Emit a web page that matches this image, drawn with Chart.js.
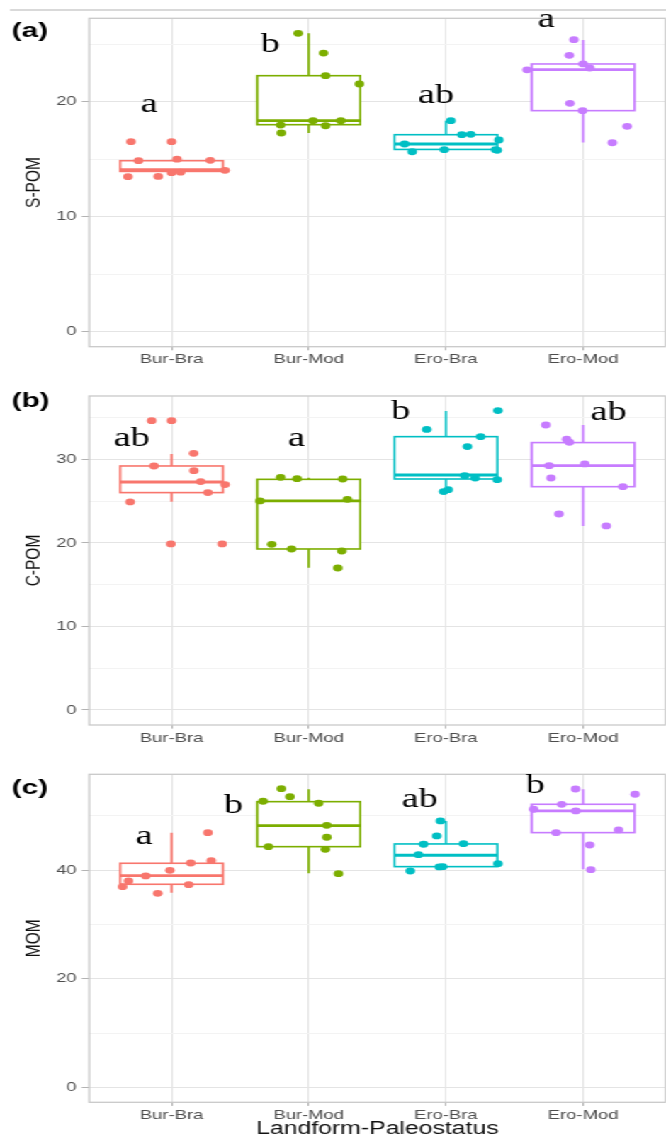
<!DOCTYPE html>
<html>
<head>
<meta charset="utf-8">
<title>Landform-Paleostatus boxplots</title>
<script src="https://cdn.jsdelivr.net/npm/chart.js@4/dist/chart.umd.min.js"></script>
<style>
  html, body { margin: 0; padding: 0; background: #fff; width: 666px; height: 1139px; overflow: hidden; }
  /* the figure is drawn narrow and widened, so text and dots come out stretched */
  #figure { position: absolute; left: 0; top: 0; width: 473px; height: 1139px; transform: scaleX(1.417); transform-origin: 0 0; }
  #figure canvas { position: absolute; left: 0; }
</style>
</head>
<body>
<div id="figure">
  <canvas id="panelA" width="473" height="370" style="top:0px"></canvas>
  <canvas id="panelB" width="473" height="375" style="top:370px"></canvas>
  <canvas id="panelC" width="473" height="394" style="top:745px"></canvas>
</div>
<script>
// ---- data -------------------------------------------------------------
const categories = ['Bur-Bra', 'Bur-Mod', 'Ero-Bra', 'Ero-Mod'];
const xTitle = 'Landform-Paleostatus';

// box summaries: [lower whisker, Q1, median, Q3, upper whisker]
const sPomBoxes = [
  [13.72, 13.94, 14.09, 14.87, 14.95],
  [17.28, 18.00, 18.35, 22.26, 25.94],
  [15.80, 15.85, 16.32, 17.13, 18.35],
  [16.46, 19.22, 22.78, 23.28, 25.37]
];
const sPomPoints = [
  [16.52, 16.52, 14.87, 15.00, 14.90, 13.48, 13.50, 13.83, 13.87, 14.03],
  [25.94, 24.23, 22.26, 21.54, 18.35, 18.35, 17.97, 17.91, 17.28],
  [18.35, 17.13, 17.16, 16.67, 16.32, 15.65, 15.83, 15.83, 15.78],
  [25.39, 24.03, 23.28, 22.93, 22.77, 19.86, 19.22, 17.86, 16.43]
];
const sPomLetters = ['a', 'b', 'ab', 'a'];

const cPomBoxes = [
  [24.95, 26.03, 27.30, 29.22, 30.66],
  [17.04, 19.28, 25.03, 27.62, 27.80],
  [26.23, 27.66, 28.14, 32.73, 35.80],
  [22.04, 26.74, 29.26, 32.02, 34.13]
];
const cPomPoints = [
  [34.65, 34.65, 30.74, 29.22, 28.66, 27.35, 26.99, 26.03, 24.91, 19.88, 19.88],
  [27.86, 27.70, 27.66, 25.03, 25.23, 19.84, 19.28, 19.04, 17.00],
  [35.85, 33.60, 32.73, 31.54, 28.06, 27.78, 27.58, 26.15, 26.38],
  [34.13, 32.42, 32.06, 29.26, 29.46, 27.78, 26.74, 23.47, 22.04]
];
const cPomLetters = ['ab', 'a', 'b', 'ab'];

const momBoxes = [
  [35.85, 37.39, 38.97, 41.25, 46.88],
  [39.41, 44.30, 48.16, 52.57, 54.85],
  [40.40, 40.63, 42.72, 44.80, 49.03],
  [40.15, 46.88, 50.86, 52.09, 54.85]
];
const momPoints = [
  [46.88, 41.30, 41.73, 39.96, 38.92, 38.00, 36.95, 37.32, 35.73],
  [54.96, 53.49, 52.65, 52.28, 48.23, 46.03, 44.30, 43.82, 39.34],
  [49.03, 46.27, 44.74, 44.85, 42.83, 41.18, 40.57, 40.63, 39.83],
  [54.90, 53.93, 52.09, 51.18, 50.86, 46.88, 47.37, 44.61, 40.07]
];
const momLetters = ['a', 'b', 'ab', 'b'];

// ---- placement (category units / value units) --------------------------
// horizontal jitter of each point, as a fraction of the category spacing
const sPomJitter = [
  [-0.296, 0, -0.241, 0.040, 0.282, -0.318, -0.097, 0, 0.065, 0.390],
  [-0.077, 0.108, 0.123, 0.369, 0.031, 0.234, -0.205, 0.123, -0.200],
  [0.036, 0.116, 0.181, 0.386, -0.301, -0.246, -0.012, 0.362, 0.374],
  [-0.067, -0.100, 0, 0.048, -0.409, -0.096, -0.004, 0.321, 0.213]
];
const cPomJitter = [
  [-0.145, 0, 0.161, -0.128, 0.163, 0.212, 0.390, 0.265, -0.302, -0.005, 0.369],
  [-0.205, -0.085, 0.248, -0.356, 0.282, -0.270, -0.125, 0.241, 0.212],
  [0.379, -0.140, 0.253, 0.157, 0.137, 0.213, 0.374, -0.017, 0.017],
  [-0.272, -0.120, -0.100, -0.248, 0.012, -0.234, 0.290, -0.176, 0.169]
];
const momJitter = [
  [0.265, 0.140, 0.289, -0.012, -0.188, -0.314, -0.357, 0.125, -0.101],
  [-0.200, -0.137, -0.333, 0.072, 0.132, 0.132, -0.294, 0.121, 0.217],
  [-0.040, -0.067, -0.163, 0.128, -0.200, 0.379, -0.048, -0.024, -0.260],
  [-0.055, 0.379, -0.156, -0.361, -0.053, -0.197, 0.258, 0.048, 0.056]
];
// [x, baseline value] of each significance letter
const sPomLetterSpots = [[-0.163, 19.13], [0.720, 24.30], [1.928, 19.86], [2.730, 26.50]];
const cPomLetterSpots = [[-0.290, 31.60], [0.910, 31.60], [1.670, 34.85], [3.185, 34.70]];
const momLetterSpots  = [[-0.200, 44.80], [0.450, 50.40], [1.810, 51.65], [2.650, 54.20]];

// ---- styling ----------------------------------------------------------
const groupColors = ['#F8766D', '#7CAE00', '#00BFC4', '#C77CFF'];
const SANS = "'Liberation Sans', Arial, sans-serif";
const SERIF = "'Liberation Serif', 'Times New Roman', serif";
const BOX_WIDTH = 0.75;

Chart.defaults.font.family = SANS;
Chart.defaults.animation = false;

const panels = [
  { canvas: 'panelA', tag: '(a)', tagY: 31.7, yTitle: 'S-POM',
    boxes: sPomBoxes, points: sPomPoints, jitter: sPomJitter,
    letters: sPomLetters, letterSpots: sPomLetterSpots,
    yMin: -1.30, yMax: 27.25, major: [0, 10, 20], minor: [5, 15, 25],
    top: 18.3, axisHeight: 23.3, showXTitle: false, topRule: true },
  { canvas: 'panelB', tag: '(b)', tagY: 31.7, yTitle: 'C-POM',
    boxes: cPomBoxes, points: cPomPoints, jitter: cPomJitter,
    letters: cPomLetters, letterSpots: cPomLetterSpots,
    yMin: -1.80, yMax: 37.60, major: [0, 10, 20, 30], minor: [5, 15, 25, 35],
    top: 26, axisHeight: 20, showXTitle: false, topRule: false },
  { canvas: 'panelC', tag: '(c)', tagY: 43.3, yTitle: 'MOM',
    boxes: momBoxes, points: momPoints, jitter: momJitter,
    letters: momLetters, letterSpots: momLetterSpots,
    yMin: -2.68, yMax: 57.60, major: [0, 20, 40], minor: [10, 30, 50],
    top: 29.3, axisHeight: 36.7, showXTitle: true, topRule: false }
];

// boxes, panel frame, letters and the panel tag
function makeBoxLayer(p) {
  return {
    id: 'boxLayer',
    beforeDatasetsDraw(chart) {
      const { ctx, chartArea: a, scales: { x, y } } = chart;
      ctx.save();
      ctx.strokeStyle = '#C9C9C9';
      ctx.lineWidth = 1.3;
      ctx.strokeRect(a.left, a.top, a.right - a.left, a.bottom - a.top);
      p.boxes.forEach((b, i) => {
        const cx = x.getPixelForValue(i);
        const hw = x.getPixelForValue(i + BOX_WIDTH / 2) - cx;
        const [lo, q1, med, q3, hi] = b.map(v => y.getPixelForValue(v));
        ctx.strokeStyle = groupColors[i];
        ctx.lineWidth = 1.6;
        ctx.beginPath();
        ctx.moveTo(cx, hi); ctx.lineTo(cx, q3);
        ctx.moveTo(cx, q1); ctx.lineTo(cx, lo);
        ctx.stroke();
        ctx.fillStyle = '#ffffff';
        ctx.fillRect(cx - hw, q3, 2 * hw, q1 - q3);
        ctx.strokeRect(cx - hw, q3, 2 * hw, q1 - q3);
        ctx.lineWidth = 2.8;
        ctx.beginPath();
        ctx.moveTo(cx - hw, med); ctx.lineTo(cx + hw, med);
        ctx.stroke();
      });
      ctx.restore();
    },
    afterDatasetsDraw(chart) {
      const { ctx, scales: { x, y } } = chart;
      ctx.save();
      ctx.fillStyle = '#000';
      ctx.font = '27px ' + SERIF;
      ctx.textAlign = 'center';
      ctx.textBaseline = 'alphabetic';
      p.letters.forEach((t, i) => {
        const [lx, ly] = p.letterSpots[i];
        ctx.fillText(t, x.getPixelForValue(lx), y.getPixelForValue(ly));
      });
      ctx.restore();
    },
    afterDraw(chart) {
      const { ctx } = chart;
      ctx.save();
      if (p.topRule) {
        ctx.strokeStyle = '#CCCCCC';
        ctx.lineWidth = 1.5;
        ctx.beginPath();
        ctx.moveTo(7, 10); ctx.lineTo(chart.width, 10);
        ctx.stroke();
      }
      ctx.fillStyle = '#000';
      ctx.font = 'bold 21px ' + SANS;
      ctx.textAlign = 'left';
      ctx.textBaseline = 'middle';
      ctx.fillText(p.tag, 8.3, p.tagY);
      ctx.restore();
    }
  };
}

panels.forEach(p => {
  const isMajor = v => p.major.includes(v);
  new Chart(document.getElementById(p.canvas), {
    type: 'scatter',
    data: {
      datasets: categories.map((c, i) => ({
        label: c,
        data: p.points[i].map((v, k) => ({ x: i + p.jitter[i][k], y: v })),
        backgroundColor: groupColors[i],
        borderColor: groupColors[i],
        borderWidth: 0,
        pointRadius: 3.4,
        pointHoverRadius: 3.4
      }))
    },
    options: {
      responsive: false,
      devicePixelRatio: 1,
      events: [],
      layout: { padding: { top: p.top, left: 0, right: 0, bottom: 0 } },
      plugins: { legend: { display: false }, tooltip: { enabled: false } },
      scales: {
        x: {
          type: 'linear',
          min: -0.6,
          max: 3.6,
          afterBuildTicks: s => { s.ticks = categories.map((_, i) => ({ value: i })); },
          afterFit: s => { s.height = p.axisHeight; },
          ticks: {
            callback: v => categories[v] ?? '',
            color: '#4D4D4D',
            font: { size: 13 },
            padding: 1.7,
            autoSkip: false,
            maxRotation: 0
          },
          grid: { color: '#E4E4E4', lineWidth: 1, tickLength: 3.6, tickColor: '#B3B3B3' },
          border: { display: false },
          title: {
            display: p.showXTitle,
            text: xTitle,
            color: '#111',
            font: { size: 17.5, lineHeight: 1.15 },
            padding: { top: 0, bottom: 0 }
          }
        },
        y: {
          type: 'linear',
          min: p.yMin,
          max: p.yMax,
          afterBuildTicks: s => {
            s.ticks = [...p.major, ...p.minor].sort((a, b) => a - b).map(v => ({ value: v }));
          },
          afterFit: s => { s.width = 63; },
          ticks: {
            callback: v => (isMajor(v) ? String(v) : ''),
            color: '#4D4D4D',
            font: { size: 13 },
            padding: 3.5,
            autoSkip: false
          },
          grid: {
            color: c => (c.tick && isMajor(c.tick.value) ? '#E4E4E4' : '#F3F3F3'),
            tickColor: c => (c.tick && isMajor(c.tick.value) ? '#B3B3B3' : 'rgba(0,0,0,0)'),
            lineWidth: 1,
            tickLength: 5.4
          },
          border: { display: false },
          title: {
            display: true,
            text: p.yTitle,
            color: '#111',
            font: { size: 15.5 },
            padding: { top: 14.2, bottom: 0 }
          }
        }
      }
    },
    plugins: [makeBoxLayer(p)]
  });
});
</script>
</body>
</html>
